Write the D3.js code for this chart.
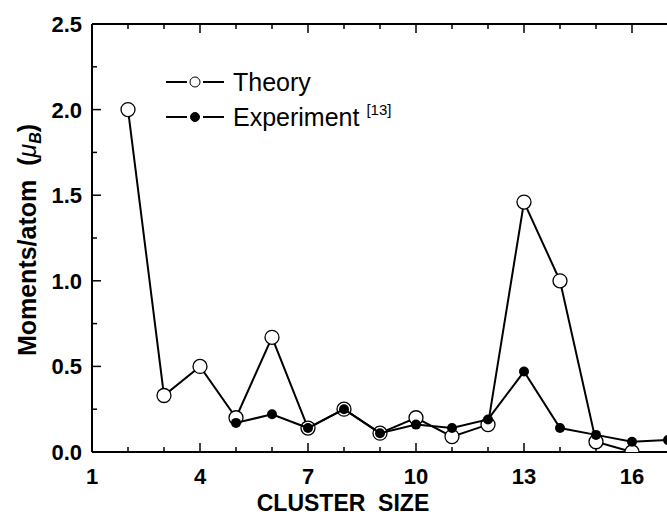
<!DOCTYPE html>
<html>
<head>
<meta charset="utf-8">
<script src="https://cdn.jsdelivr.net/npm/d3@7"></script>
<style>
  body { margin: 0; background: #fff; }
  svg { font-family: "Liberation Sans", Arial, sans-serif; }
</style>
</head>
<body>
<script>
var w = 667;
var h = 515;

// cluster sizes and moments per atom (mu_B)
var theorySize = [2, 3, 4, 5, 6, 7, 8, 9, 10, 11, 12, 13, 14, 15, 16];
var theoryMoment = [2.0, 0.33, 0.5, 0.2, 0.67, 0.14, 0.25, 0.11, 0.2, 0.09, 0.16, 1.46, 1.0, 0.06, 0.0];
var expSize = [5, 6, 7, 8, 9, 10, 11, 12, 13, 14, 15, 16, 17];
var expMoment = [0.17, 0.22, 0.14, 0.25, 0.11, 0.16, 0.14, 0.19, 0.47, 0.14, 0.1, 0.06, 0.07];

var xTicks = [1, 4, 7, 10, 13, 16];
var yTicks = [0.0, 0.5, 1.0, 1.5, 2.0, 2.5];

var padL = 92, padR = 668, padT = 24, padB = 452;

var x = d3.scaleLinear().domain([1, 17]).range([padL, padR]);
var y = d3.scaleLinear().domain([0, 2.5]).range([padB, padT]);

var svg = d3.select("body")
    .append("svg")
        .attr("width", w)
        .attr("height", h);

svg.append("defs").append("clipPath")
    .attr("id", "plot")
    .append("rect")
        .attr("x", padL)
        .attr("y", padT - 10)
        .attr("width", padR - padL + 10)
        .attr("height", padB - padT + 10);

var minorX = d3.range(1, 18);
var minorY = d3.range(0, 2.51, 0.25);

// bottom axis
var xAxis = svg.append("g").attr("transform", "translate(0," + padB + ")");
xAxis.append("line").attr("x1", padL).attr("x2", padR).attr("stroke", "#000").attr("stroke-width", 2);
xAxis.selectAll(".tk").data(minorX).enter().append("line")
    .attr("x1", x).attr("x2", x)
    .attr("y1", 0)
    .attr("y2", function(d) { return (d - 1) % 3 === 0 ? -9 : -5; })
    .attr("stroke", "#000").attr("stroke-width", 1.5);
xAxis.selectAll("text").data(xTicks).enter().append("text")
    .attr("x", x)
    .attr("y", 32)
    .attr("text-anchor", "middle")
    .attr("font-size", 22)
    .attr("font-weight", "bold")
    .text(function(d) { return d; });

// top axis (box)
var topAxis = svg.append("g").attr("transform", "translate(0," + padT + ")");
topAxis.append("line").attr("x1", padL).attr("x2", padR).attr("stroke", "#000").attr("stroke-width", 2);
topAxis.selectAll(".tk").data(minorX).enter().append("line")
    .attr("x1", x).attr("x2", x)
    .attr("y1", 0)
    .attr("y2", function(d) { return (d - 1) % 3 === 0 ? 9 : 5; })
    .attr("stroke", "#000").attr("stroke-width", 1.5);

// left axis
var yAxis = svg.append("g").attr("transform", "translate(" + padL + ",0)");
yAxis.append("line").attr("y1", padT).attr("y2", padB).attr("stroke", "#000").attr("stroke-width", 2);
yAxis.selectAll(".tk").data(minorY).enter().append("line")
    .attr("y1", y).attr("y2", y)
    .attr("x1", 0)
    .attr("x2", function(d, i) { return i % 2 === 0 ? 9 : 5; })
    .attr("stroke", "#000").attr("stroke-width", 1.5);
yAxis.selectAll("text").data(yTicks).enter().append("text")
    .attr("x", -10)
    .attr("y", y)
    .attr("dy", "0.36em")
    .attr("text-anchor", "end")
    .attr("font-size", 22)
    .attr("font-weight", "bold")
    .text(function(d) { return d.toFixed(1); });

// axis titles
svg.append("text")
    .attr("x", 343)
    .attr("y", 511)
    .attr("text-anchor", "middle")
    .attr("font-size", 23)
    .attr("font-weight", "bold")
    .attr("xml:space", "preserve")
    .text("CLUSTER  SIZE");

var yTitle = svg.append("text")
    .attr("transform", "translate(36,240) rotate(-90)")
    .attr("text-anchor", "middle")
    .attr("font-size", 25)
    .attr("font-weight", "bold")
    .attr("xml:space", "preserve");
yTitle.append("tspan").text("Moments/atom  (");
yTitle.append("tspan").attr("font-style", "italic").attr("font-weight", "normal").text("\u03bc");
yTitle.append("tspan").attr("font-style", "italic").attr("font-size", 16).attr("dy", 5).text("B");
yTitle.append("tspan").attr("dy", -5).text(")");

// data
var plot = svg.append("g").attr("clip-path", "url(#plot)");

var theory = theorySize.map(function(d, i) { return [d, theoryMoment[i]]; });
var experiment = expSize.map(function(d, i) { return [d, expMoment[i]]; });

var line = d3.line()
    .x(function(d) { return x(d[0]); })
    .y(function(d) { return y(d[1]); });

plot.append("path")
    .attr("d", line(theory))
    .attr("fill", "none")
    .attr("stroke", "#000")
    .attr("stroke-width", 2);

plot.selectAll(".theory").data(theory).enter().append("circle")
    .attr("cx", function(d) { return x(d[0]); })
    .attr("cy", function(d) { return y(d[1]); })
    .attr("r", 7)
    .attr("fill", "#fff")
    .attr("stroke", "#000")
    .attr("stroke-width", 1.3);

plot.append("path")
    .attr("d", line(experiment))
    .attr("fill", "none")
    .attr("stroke", "#000")
    .attr("stroke-width", 2);

plot.selectAll(".exp").data(experiment).enter().append("circle")
    .attr("cx", function(d) { return x(d[0]); })
    .attr("cy", function(d) { return y(d[1]); })
    .attr("r", 5)
    .attr("fill", "#000");

// legend
var legend = svg.append("g");
var legendRows = [{ y: 82, label: "Theory", open: true }, { y: 117, label: "Experiment ", open: false }];

legendRows.forEach(function(r) {
    legend.append("line").attr("x1", 166).attr("x2", 187).attr("y1", r.y).attr("y2", r.y)
        .attr("stroke", "#000").attr("stroke-width", 2);
    legend.append("line").attr("x1", 203).attr("x2", 224).attr("y1", r.y).attr("y2", r.y)
        .attr("stroke", "#000").attr("stroke-width", 2);
    legend.append("circle")
        .attr("cx", 195).attr("cy", r.y)
        .attr("r", r.open ? 5 : 4.5)
        .attr("fill", r.open ? "#fff" : "#000")
        .attr("stroke", "#000").attr("stroke-width", 1);
    var t = legend.append("text")
        .attr("x", 233).attr("y", r.y)
        .attr("dy", "0.36em")
        .attr("font-size", 25)
        .attr("xml:space", "preserve")
        .text(r.label);
    if (!r.open) {
        t.append("tspan").attr("font-size", 15).attr("dy", -11).text("[13]");
    }
});
</script>
</body>
</html>
